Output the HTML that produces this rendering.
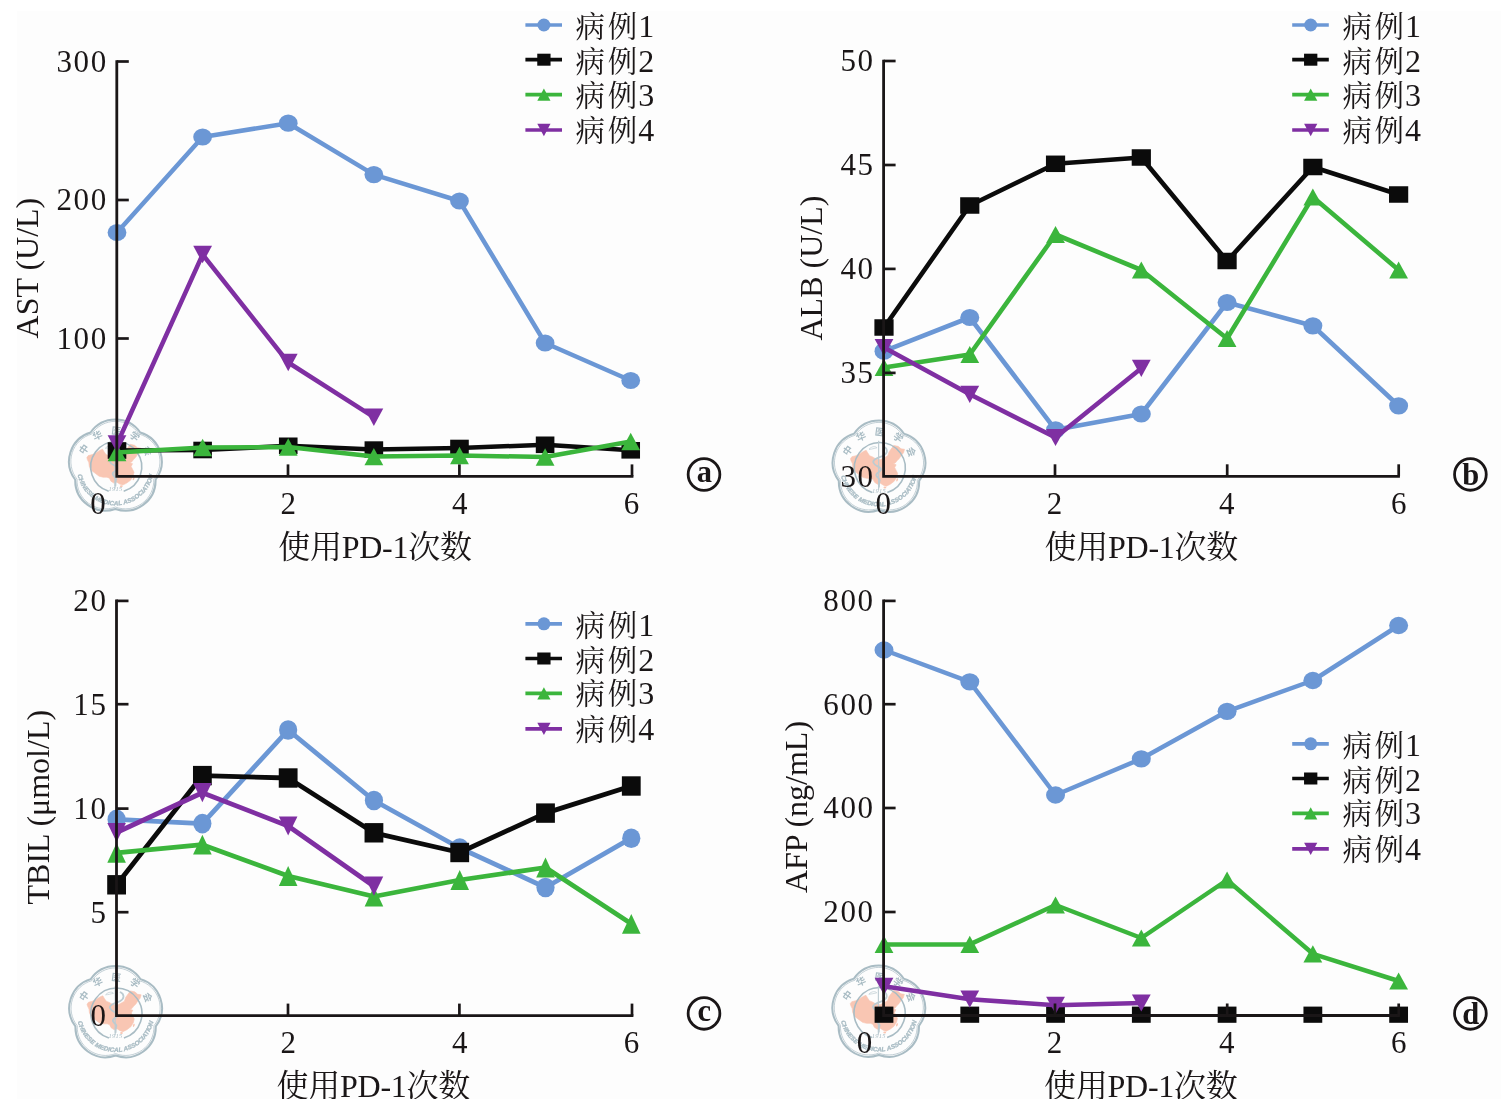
<!DOCTYPE html>
<html lang="zh-CN">
<head>
<meta charset="utf-8">
<title>使用PD-1次数 — AST / ALB / TBIL / AFP</title>
<style>
html,body{margin:0;padding:0;background:#ffffff;}
body{width:1501px;height:1119px;overflow:hidden;font-family:"Liberation Serif","Noto Serif CJK SC",serif;}
svg{display:block;}
</style>
</head>
<body>
<svg width="1501" height="1119" viewBox="0 0 1501 1119">
<rect x="0" y="0" width="1501" height="1119" fill="#ffffff"/>
<rect x="17" y="10.8" width="1484" height="1088.2" fill="#fdfdfd"/>
<defs><clipPath id="pg"><rect x="0" y="0" width="1501" height="1099"/></clipPath></defs>
<g clip-path="url(#pg)">
<g id="chart-a">
<g transform="translate(115.4 466.7)">
<path d="M-28.55 -9.14 L-27.08 -11.11 L-23.15 -12.09 L-19.21 -14.06 L-15.28 -16.52 L-12.82 -17.5 L-11.35 -15.04 L-9.38 -12.09 L-6.43 -10.91 L-3.48 -9.14 L1.44 -8.16 L5.37 -10.13 L8.81 -12.09 L10.09 -16.03 L13.04 -19.96 L14.71 -22.42 L19.13 -21.44 L22.08 -18.98 L25.53 -18.49 L24.54 -15.04 L22.08 -12.09 L20.12 -9.14 L18.15 -7.18 L16.18 -4.72 L14.22 -4.03 L17.17 -3.05 L15.69 -0.29 L17.17 2.65 L18.64 5.6 L17.66 9.54 L15.2 13.47 L11.27 16.42 L7.34 18.39 L4.39 17.4 L1.44 15.44 L-1.51 16.42 L-4.46 14.45 L-5.94 11.5 L-8.4 10.52 L-12.33 10.52 L-16.26 9.54 L-20.2 6.59 L-24.13 3.64 L-26.1 -0.29 L-26.59 -4.23 L-28.06 -7.18 Z" fill="#f9c6b3" stroke="#f9c6b3" stroke-width="0.6" stroke-linejoin="round"/>
<ellipse cx="5.9" cy="19.6" rx="1.4" ry="1.0" fill="#f9c6b3"/>
<ellipse cx="18.2" cy="12.0" rx="0.8" ry="1.7" fill="#f9c6b3" transform="rotate(20 18.2 12)"/>
<path d="M-24.84 -34.18 A30.2 30.2 0 0 1 24.84 -34.18 A30.2 30.2 0 0 1 40.18 13.06 A30.2 30.2 0 0 1 0 42.25 A30.2 30.2 0 0 1 -40.18 13.06 A30.2 30.2 0 0 1 -24.84 -34.18 Z" fill="none" stroke="#a9bcc4" stroke-width="2.0" stroke-linejoin="round"/>
<path d="M-23.71 -32.63 A28.4 28.4 0 0 1 23.71 -32.63 A28.4 28.4 0 0 1 38.36 12.46 A28.4 28.4 0 0 1 0 40.34 A28.4 28.4 0 0 1 -38.36 12.46 A28.4 28.4 0 0 1 -23.71 -32.63 Z" fill="none" stroke="#a9bcc4" stroke-width="0.7" stroke-linejoin="round"/>
<path d="M-6.7 24.6 A25.5 25.5 0 1 1 8.3 24.6" fill="none" stroke="#a9bcc4" stroke-width="1.6"/>
<path d="M-0.4 -27 L-0.4 22" stroke="#bfcdd3" stroke-width="1.2" fill="none"/>
<path d="M5 -21 C9 -19 9 -14 4 -12 C-2 -10 -7 -8 -5.5 -5 C-4 -1 3 -1 2 2 C1 5 -4 5 -2.5 8 C-1 11 2 11 0.5 13.5 C0 15 0 17 0 19" stroke="#bccbd1" stroke-width="1.8" fill="none" stroke-linecap="round"/>
<path d="M-10 -18.5 C-7 -22 -3 -21.5 -2 -20 C-5 -19.5 -7 -18.5 -10 -18.5 Z" stroke="#b4c5cb" stroke-width="0.6" fill="none"/>
<path id="w115_466t" d="M-32.2 0 A32.2 32.2 0 0 1 32.2 0" fill="none"/>
<path id="w115_466b" d="M-38.7 0 A38.7 38.7 0 0 0 38.7 0" fill="none"/>
<text font-family="'Liberation Sans', 'Noto Sans CJK SC', sans-serif" font-size="9.6" font-weight="bold" fill="#a9bcc4" text-anchor="middle" letter-spacing="7.9"><textPath href="#w115_466t" startOffset="54.2%">中华医学会</textPath></text>
<text font-family="'Liberation Sans', sans-serif" font-size="6.2" font-weight="bold" font-style="italic" fill="#a9bcc4" stroke="#a9bcc4" stroke-width="0.3" text-anchor="middle"><textPath href="#w115_466b" startOffset="50%" textLength="105" lengthAdjust="spacingAndGlyphs">CHINESE MEDICAL ASSOCIATION</textPath></text>
<text x="0" y="24.8" font-family="'Liberation Serif', serif" font-size="6.4" font-style="italic" fill="#a9bcc4" text-anchor="middle" letter-spacing="0.3">1915</text>
</g>
<polyline points="117,232.5 202.62,137 288.24,123.2 373.86,174.6 459.48,201 545.1,343 630.72,380.5" fill="none" stroke="#6b97d5" stroke-width="4.5" stroke-linejoin="round"/>
<ellipse cx="117" cy="232.5" rx="9.4" ry="8.6" fill="#6b97d5"/>
<ellipse cx="202.62" cy="137" rx="9.4" ry="8.6" fill="#6b97d5"/>
<ellipse cx="288.24" cy="123.2" rx="9.4" ry="8.6" fill="#6b97d5"/>
<ellipse cx="373.86" cy="174.6" rx="9.4" ry="8.6" fill="#6b97d5"/>
<ellipse cx="459.48" cy="201" rx="9.4" ry="8.6" fill="#6b97d5"/>
<ellipse cx="545.1" cy="343" rx="9.4" ry="8.6" fill="#6b97d5"/>
<ellipse cx="630.72" cy="380.5" rx="9.4" ry="8.6" fill="#6b97d5"/>
<polyline points="117,450.5 202.62,450 288.24,445.8 373.86,449.6 459.48,448 545.1,444.8 630.72,450.3" fill="none" stroke="#0b0b0b" stroke-width="4.5" stroke-linejoin="round"/>
<rect x="107.7" y="442.2" width="18.6" height="16.6" fill="#0b0b0b"/>
<rect x="193.32" y="441.7" width="18.6" height="16.6" fill="#0b0b0b"/>
<rect x="278.94" y="437.5" width="18.6" height="16.6" fill="#0b0b0b"/>
<rect x="364.56" y="441.3" width="18.6" height="16.6" fill="#0b0b0b"/>
<rect x="450.18" y="439.7" width="18.6" height="16.6" fill="#0b0b0b"/>
<rect x="535.8" y="436.5" width="18.6" height="16.6" fill="#0b0b0b"/>
<rect x="621.42" y="442" width="18.6" height="16.6" fill="#0b0b0b"/>
<polyline points="117,452.5 202.62,447.5 288.24,447 373.86,456.6 459.48,455.5 545.1,457 630.72,441.5" fill="none" stroke="#3bb53c" stroke-width="4.5" stroke-linejoin="round"/>
<polygon points="117,443.8 126.4,461.2 107.6,461.2" fill="#3bb53c"/>
<polygon points="202.62,438.8 212.02,456.2 193.22,456.2" fill="#3bb53c"/>
<polygon points="288.24,438.3 297.64,455.7 278.84,455.7" fill="#3bb53c"/>
<polygon points="373.86,447.9 383.26,465.3 364.46,465.3" fill="#3bb53c"/>
<polygon points="459.48,446.8 468.88,464.2 450.08,464.2" fill="#3bb53c"/>
<polygon points="545.1,448.3 554.5,465.7 535.7,465.7" fill="#3bb53c"/>
<polygon points="630.72,432.8 640.12,450.2 621.32,450.2" fill="#3bb53c"/>
<polyline points="117,444 202.62,254.5 288.24,362.5 373.86,417.2" fill="none" stroke="#7f2fa2" stroke-width="4.5" stroke-linejoin="round"/>
<polygon points="117,452.7 126.4,435.3 107.6,435.3" fill="#7f2fa2"/>
<polygon points="202.62,263.2 212.02,245.8 193.22,245.8" fill="#7f2fa2"/>
<polygon points="288.24,371.2 297.64,353.8 278.84,353.8" fill="#7f2fa2"/>
<polygon points="373.86,425.9 383.26,408.5 364.46,408.5" fill="#7f2fa2"/>
<path d="M116.8 60.2 L116.8 476.4 L633.4 476.4" fill="none" stroke="#1a1617" stroke-width="2.8" stroke-linejoin="miter"/>
<path d="M116.8 61.5 h12.0" stroke="#1a1617" stroke-width="2.7"/>
<path d="M116.8 200 h12.0" stroke="#1a1617" stroke-width="2.7"/>
<path d="M116.8 338.5 h12.0" stroke="#1a1617" stroke-width="2.7"/>
<path d="M288 476.4 v-12.0" stroke="#1a1617" stroke-width="2.7"/>
<path d="M459.4 476.4 v-12.0" stroke="#1a1617" stroke-width="2.7"/>
<path d="M632 476.4 v-12.0" stroke="#1a1617" stroke-width="2.7"/>
<text x="107.8" y="71.8" text-anchor="end" font-family="'Liberation Serif', 'Noto Serif CJK SC', serif" font-size="31" fill="#1a1617" letter-spacing="1.6">300</text>
<text x="107.8" y="210.3" text-anchor="end" font-family="'Liberation Serif', 'Noto Serif CJK SC', serif" font-size="31" fill="#1a1617" letter-spacing="1.6">200</text>
<text x="107.8" y="348.8" text-anchor="end" font-family="'Liberation Serif', 'Noto Serif CJK SC', serif" font-size="31" fill="#1a1617" letter-spacing="1.6">100</text>
<text x="289.1" y="513.6" text-anchor="middle" font-family="'Liberation Serif', 'Noto Serif CJK SC', serif" font-size="31" fill="#1a1617" letter-spacing="1.6">2</text>
<text x="460.5" y="513.6" text-anchor="middle" font-family="'Liberation Serif', 'Noto Serif CJK SC', serif" font-size="31" fill="#1a1617" letter-spacing="1.6">4</text>
<text x="632.2" y="513.6" text-anchor="middle" font-family="'Liberation Serif', 'Noto Serif CJK SC', serif" font-size="31" fill="#1a1617" letter-spacing="1.6">6</text>
<text x="98.8" y="513.6" text-anchor="middle" font-family="'Liberation Serif', 'Noto Serif CJK SC', serif" font-size="31" fill="#1a1617" letter-spacing="1.6">0</text>
<text transform="translate(38.1 268.1) rotate(-90)" text-anchor="middle" font-family="'Liberation Serif', 'Noto Serif CJK SC', serif" font-size="32" fill="#1a1617" letter-spacing="0">AST (U/L)</text>
<text x="375" y="558" text-anchor="middle" font-family="'Liberation Serif', 'Noto Serif CJK SC', serif" font-size="32" fill="#1a1617" letter-spacing="-0.25">使用PD-1次数</text>
<path d="M525.4 25 h36.6" stroke="#6b97d5" stroke-width="3.7"/>
<circle cx="543.9" cy="25" r="6.5" fill="#6b97d5"/>
<text x="575.6" y="37" font-family="'Liberation Serif', 'Noto Serif CJK SC', serif" font-size="29.5" fill="#1a1617" letter-spacing="2.7">病例<tspan x="638.2" font-size="32" letter-spacing="0">1</tspan></text>
<path d="M525.4 59.7 h36.6" stroke="#0b0b0b" stroke-width="3.7"/>
<rect x="537.25" y="53.7" width="13.3" height="12" fill="#0b0b0b"/>
<text x="575.6" y="71.7" font-family="'Liberation Serif', 'Noto Serif CJK SC', serif" font-size="29.5" fill="#1a1617" letter-spacing="2.7">病例<tspan x="638.2" font-size="32" letter-spacing="0">2</tspan></text>
<path d="M525.4 94.6 h36.6" stroke="#3bb53c" stroke-width="3.7"/>
<polygon points="543.9,88.45 550.5,100.75 537.3,100.75" fill="#3bb53c"/>
<text x="575.6" y="105.6" font-family="'Liberation Serif', 'Noto Serif CJK SC', serif" font-size="29.5" fill="#1a1617" letter-spacing="2.7">病例<tspan x="638.2" font-size="32" letter-spacing="0">3</tspan></text>
<path d="M525.4 130 h36.6" stroke="#7f2fa2" stroke-width="3.7"/>
<polygon points="543.9,136.15 550.5,123.85 537.3,123.85" fill="#7f2fa2"/>
<text x="575.6" y="140.7" font-family="'Liberation Serif', 'Noto Serif CJK SC', serif" font-size="29.5" fill="#1a1617" letter-spacing="2.7">病例<tspan x="638.2" font-size="32" letter-spacing="0">4</tspan></text>
<circle cx="704" cy="474.5" r="15.85" fill="none" stroke="#1a1617" stroke-width="2.8"/>
<text x="704.3" y="481.9" text-anchor="middle" font-family="'Liberation Serif', 'Noto Serif CJK SC', serif" font-size="30.5" font-weight="bold" fill="#1a1617">a</text>
</g>
<g id="chart-b">
<g transform="translate(879 467.8)">
<path d="M-28.55 -9.14 L-27.08 -11.11 L-23.15 -12.09 L-19.21 -14.06 L-15.28 -16.52 L-12.82 -17.5 L-11.35 -15.04 L-9.38 -12.09 L-6.43 -10.91 L-3.48 -9.14 L1.44 -8.16 L5.37 -10.13 L8.81 -12.09 L10.09 -16.03 L13.04 -19.96 L14.71 -22.42 L19.13 -21.44 L22.08 -18.98 L25.53 -18.49 L24.54 -15.04 L22.08 -12.09 L20.12 -9.14 L18.15 -7.18 L16.18 -4.72 L14.22 -4.03 L17.17 -3.05 L15.69 -0.29 L17.17 2.65 L18.64 5.6 L17.66 9.54 L15.2 13.47 L11.27 16.42 L7.34 18.39 L4.39 17.4 L1.44 15.44 L-1.51 16.42 L-4.46 14.45 L-5.94 11.5 L-8.4 10.52 L-12.33 10.52 L-16.26 9.54 L-20.2 6.59 L-24.13 3.64 L-26.1 -0.29 L-26.59 -4.23 L-28.06 -7.18 Z" fill="#f9c6b3" stroke="#f9c6b3" stroke-width="0.6" stroke-linejoin="round"/>
<ellipse cx="5.9" cy="19.6" rx="1.4" ry="1.0" fill="#f9c6b3"/>
<ellipse cx="18.2" cy="12.0" rx="0.8" ry="1.7" fill="#f9c6b3" transform="rotate(20 18.2 12)"/>
<path d="M-24.84 -34.18 A30.2 30.2 0 0 1 24.84 -34.18 A30.2 30.2 0 0 1 40.18 13.06 A30.2 30.2 0 0 1 0 42.25 A30.2 30.2 0 0 1 -40.18 13.06 A30.2 30.2 0 0 1 -24.84 -34.18 Z" fill="none" stroke="#a9bcc4" stroke-width="2.0" stroke-linejoin="round"/>
<path d="M-23.71 -32.63 A28.4 28.4 0 0 1 23.71 -32.63 A28.4 28.4 0 0 1 38.36 12.46 A28.4 28.4 0 0 1 0 40.34 A28.4 28.4 0 0 1 -38.36 12.46 A28.4 28.4 0 0 1 -23.71 -32.63 Z" fill="none" stroke="#a9bcc4" stroke-width="0.7" stroke-linejoin="round"/>
<path d="M-6.7 24.6 A25.5 25.5 0 1 1 8.3 24.6" fill="none" stroke="#a9bcc4" stroke-width="1.6"/>
<path d="M-0.4 -27 L-0.4 22" stroke="#bfcdd3" stroke-width="1.2" fill="none"/>
<path d="M5 -21 C9 -19 9 -14 4 -12 C-2 -10 -7 -8 -5.5 -5 C-4 -1 3 -1 2 2 C1 5 -4 5 -2.5 8 C-1 11 2 11 0.5 13.5 C0 15 0 17 0 19" stroke="#bccbd1" stroke-width="1.8" fill="none" stroke-linecap="round"/>
<path d="M-10 -18.5 C-7 -22 -3 -21.5 -2 -20 C-5 -19.5 -7 -18.5 -10 -18.5 Z" stroke="#b4c5cb" stroke-width="0.6" fill="none"/>
<path id="w879_467t" d="M-32.2 0 A32.2 32.2 0 0 1 32.2 0" fill="none"/>
<path id="w879_467b" d="M-38.7 0 A38.7 38.7 0 0 0 38.7 0" fill="none"/>
<text font-family="'Liberation Sans', 'Noto Sans CJK SC', sans-serif" font-size="9.6" font-weight="bold" fill="#a9bcc4" text-anchor="middle" letter-spacing="7.9"><textPath href="#w879_467t" startOffset="54.2%">中华医学会</textPath></text>
<text font-family="'Liberation Sans', sans-serif" font-size="6.2" font-weight="bold" font-style="italic" fill="#a9bcc4" stroke="#a9bcc4" stroke-width="0.3" text-anchor="middle"><textPath href="#w879_467b" startOffset="50%" textLength="105" lengthAdjust="spacingAndGlyphs">CHINESE MEDICAL ASSOCIATION</textPath></text>
<text x="0" y="24.8" font-family="'Liberation Serif', serif" font-size="6.4" font-style="italic" fill="#a9bcc4" text-anchor="middle" letter-spacing="0.3">1915</text>
</g>
<polyline points="884,351.2 969.77,317.5 1055.54,429.8 1141.31,414 1227.08,302.5 1312.85,325.8 1398.62,405.8" fill="none" stroke="#6b97d5" stroke-width="4.6" stroke-linejoin="round"/>
<ellipse cx="884" cy="351.2" rx="9.5" ry="8.6" fill="#6b97d5"/>
<ellipse cx="969.77" cy="317.5" rx="9.5" ry="8.6" fill="#6b97d5"/>
<ellipse cx="1055.54" cy="429.8" rx="9.5" ry="8.6" fill="#6b97d5"/>
<ellipse cx="1141.31" cy="414" rx="9.5" ry="8.6" fill="#6b97d5"/>
<ellipse cx="1227.08" cy="302.5" rx="9.5" ry="8.6" fill="#6b97d5"/>
<ellipse cx="1312.85" cy="325.8" rx="9.5" ry="8.6" fill="#6b97d5"/>
<ellipse cx="1398.62" cy="405.8" rx="9.5" ry="8.6" fill="#6b97d5"/>
<polyline points="884,327.5 969.77,205.5 1055.54,163.8 1141.31,157.5 1227.08,261 1312.85,167 1398.62,194.5" fill="none" stroke="#0b0b0b" stroke-width="4.6" stroke-linejoin="round"/>
<rect x="874.4" y="319.25" width="19.2" height="16.5" fill="#0b0b0b"/>
<rect x="960.17" y="197.25" width="19.2" height="16.5" fill="#0b0b0b"/>
<rect x="1045.94" y="155.55" width="19.2" height="16.5" fill="#0b0b0b"/>
<rect x="1131.71" y="149.25" width="19.2" height="16.5" fill="#0b0b0b"/>
<rect x="1217.48" y="252.75" width="19.2" height="16.5" fill="#0b0b0b"/>
<rect x="1303.25" y="158.75" width="19.2" height="16.5" fill="#0b0b0b"/>
<rect x="1389.02" y="186.25" width="19.2" height="16.5" fill="#0b0b0b"/>
<polyline points="884,367.5 969.77,354.5 1055.54,234.5 1141.31,270 1227.08,338.5 1312.85,197 1398.62,270" fill="none" stroke="#3bb53c" stroke-width="4.6" stroke-linejoin="round"/>
<polygon points="884,358.9 893.4,376.1 874.6,376.1" fill="#3bb53c"/>
<polygon points="969.77,345.9 979.17,363.1 960.37,363.1" fill="#3bb53c"/>
<polygon points="1055.54,225.9 1064.94,243.1 1046.14,243.1" fill="#3bb53c"/>
<polygon points="1141.31,261.4 1150.71,278.6 1131.91,278.6" fill="#3bb53c"/>
<polygon points="1227.08,329.9 1236.48,347.1 1217.68,347.1" fill="#3bb53c"/>
<polygon points="1312.85,188.4 1322.25,205.6 1303.45,205.6" fill="#3bb53c"/>
<polygon points="1398.62,261.4 1408.02,278.6 1389.22,278.6" fill="#3bb53c"/>
<polyline points="884,347.5 969.77,394.3 1055.54,437.5 1141.31,368.3" fill="none" stroke="#7f2fa2" stroke-width="4.6" stroke-linejoin="round"/>
<polygon points="884,356.1 893.4,338.9 874.6,338.9" fill="#7f2fa2"/>
<polygon points="969.77,402.9 979.17,385.7 960.37,385.7" fill="#7f2fa2"/>
<polygon points="1055.54,446.1 1064.94,428.9 1046.14,428.9" fill="#7f2fa2"/>
<polygon points="1141.31,376.9 1150.71,359.7 1131.91,359.7" fill="#7f2fa2"/>
<path d="M883.6 59.7 L883.6 476.3 L1399.9 476.3" fill="none" stroke="#1a1617" stroke-width="2.8" stroke-linejoin="miter"/>
<path d="M883.6 61 h12.0" stroke="#1a1617" stroke-width="2.7"/>
<path d="M883.6 165 h12.0" stroke="#1a1617" stroke-width="2.7"/>
<path d="M883.6 268.9 h12.0" stroke="#1a1617" stroke-width="2.7"/>
<path d="M883.6 372.9 h12.0" stroke="#1a1617" stroke-width="2.7"/>
<path d="M1055 476.3 v-12.0" stroke="#1a1617" stroke-width="2.7"/>
<path d="M1227.2 476.3 v-12.0" stroke="#1a1617" stroke-width="2.7"/>
<path d="M1398.7 476.3 v-12.0" stroke="#1a1617" stroke-width="2.7"/>
<text x="874.6" y="71.3" text-anchor="end" font-family="'Liberation Serif', 'Noto Serif CJK SC', serif" font-size="31" fill="#1a1617" letter-spacing="1.6">50</text>
<text x="874.6" y="175.3" text-anchor="end" font-family="'Liberation Serif', 'Noto Serif CJK SC', serif" font-size="31" fill="#1a1617" letter-spacing="1.6">45</text>
<text x="874.6" y="279.2" text-anchor="end" font-family="'Liberation Serif', 'Noto Serif CJK SC', serif" font-size="31" fill="#1a1617" letter-spacing="1.6">40</text>
<text x="874.6" y="383.2" text-anchor="end" font-family="'Liberation Serif', 'Noto Serif CJK SC', serif" font-size="31" fill="#1a1617" letter-spacing="1.6">35</text>
<text x="874.6" y="486.5" text-anchor="end" font-family="'Liberation Serif', 'Noto Serif CJK SC', serif" font-size="31" fill="#1a1617" letter-spacing="1.6">30</text>
<text x="1055.4" y="513.5" text-anchor="middle" font-family="'Liberation Serif', 'Noto Serif CJK SC', serif" font-size="31" fill="#1a1617" letter-spacing="1.6">2</text>
<text x="1227.6" y="513.5" text-anchor="middle" font-family="'Liberation Serif', 'Noto Serif CJK SC', serif" font-size="31" fill="#1a1617" letter-spacing="1.6">4</text>
<text x="1399.6" y="513.5" text-anchor="middle" font-family="'Liberation Serif', 'Noto Serif CJK SC', serif" font-size="31" fill="#1a1617" letter-spacing="1.6">6</text>
<text x="884" y="513.6" text-anchor="middle" font-family="'Liberation Serif', 'Noto Serif CJK SC', serif" font-size="31" fill="#1a1617" letter-spacing="1.6">0</text>
<text transform="translate(822.2 268.1) rotate(-90)" text-anchor="middle" font-family="'Liberation Serif', 'Noto Serif CJK SC', serif" font-size="32" fill="#1a1617" letter-spacing="0">ALB (U/L)</text>
<text x="1141.3" y="558" text-anchor="middle" font-family="'Liberation Serif', 'Noto Serif CJK SC', serif" font-size="32" fill="#1a1617" letter-spacing="-0.25">使用PD-1次数</text>
<path d="M1292.2 25 h36.6" stroke="#6b97d5" stroke-width="3.7"/>
<circle cx="1310.7" cy="25" r="6.5" fill="#6b97d5"/>
<text x="1342.4" y="37" font-family="'Liberation Serif', 'Noto Serif CJK SC', serif" font-size="29.5" fill="#1a1617" letter-spacing="2.7">病例<tspan x="1405" font-size="32" letter-spacing="0">1</tspan></text>
<path d="M1292.2 59.7 h36.6" stroke="#0b0b0b" stroke-width="3.7"/>
<rect x="1304.05" y="53.7" width="13.3" height="12" fill="#0b0b0b"/>
<text x="1342.4" y="71.7" font-family="'Liberation Serif', 'Noto Serif CJK SC', serif" font-size="29.5" fill="#1a1617" letter-spacing="2.7">病例<tspan x="1405" font-size="32" letter-spacing="0">2</tspan></text>
<path d="M1292.2 94.6 h36.6" stroke="#3bb53c" stroke-width="3.7"/>
<polygon points="1310.7,88.45 1317.3,100.75 1304.1,100.75" fill="#3bb53c"/>
<text x="1342.4" y="105.6" font-family="'Liberation Serif', 'Noto Serif CJK SC', serif" font-size="29.5" fill="#1a1617" letter-spacing="2.7">病例<tspan x="1405" font-size="32" letter-spacing="0">3</tspan></text>
<path d="M1292.2 130 h36.6" stroke="#7f2fa2" stroke-width="3.7"/>
<polygon points="1310.7,136.15 1317.3,123.85 1304.1,123.85" fill="#7f2fa2"/>
<text x="1342.4" y="140.7" font-family="'Liberation Serif', 'Noto Serif CJK SC', serif" font-size="29.5" fill="#1a1617" letter-spacing="2.7">病例<tspan x="1405" font-size="32" letter-spacing="0">4</tspan></text>
<circle cx="1470.4" cy="474.4" r="15.85" fill="none" stroke="#1a1617" stroke-width="2.8"/>
<text x="1470.7" y="484.9" text-anchor="middle" font-family="'Liberation Serif', 'Noto Serif CJK SC', serif" font-size="30.5" font-weight="bold" fill="#1a1617">b</text>
</g>
<g id="chart-c">
<g transform="translate(115.6 1013.3)">
<path d="M-28.55 -9.14 L-27.08 -11.11 L-23.15 -12.09 L-19.21 -14.06 L-15.28 -16.52 L-12.82 -17.5 L-11.35 -15.04 L-9.38 -12.09 L-6.43 -10.91 L-3.48 -9.14 L1.44 -8.16 L5.37 -10.13 L8.81 -12.09 L10.09 -16.03 L13.04 -19.96 L14.71 -22.42 L19.13 -21.44 L22.08 -18.98 L25.53 -18.49 L24.54 -15.04 L22.08 -12.09 L20.12 -9.14 L18.15 -7.18 L16.18 -4.72 L14.22 -4.03 L17.17 -3.05 L15.69 -0.29 L17.17 2.65 L18.64 5.6 L17.66 9.54 L15.2 13.47 L11.27 16.42 L7.34 18.39 L4.39 17.4 L1.44 15.44 L-1.51 16.42 L-4.46 14.45 L-5.94 11.5 L-8.4 10.52 L-12.33 10.52 L-16.26 9.54 L-20.2 6.59 L-24.13 3.64 L-26.1 -0.29 L-26.59 -4.23 L-28.06 -7.18 Z" fill="#f9c6b3" stroke="#f9c6b3" stroke-width="0.6" stroke-linejoin="round"/>
<ellipse cx="5.9" cy="19.6" rx="1.4" ry="1.0" fill="#f9c6b3"/>
<ellipse cx="18.2" cy="12.0" rx="0.8" ry="1.7" fill="#f9c6b3" transform="rotate(20 18.2 12)"/>
<path d="M-24.84 -34.18 A30.2 30.2 0 0 1 24.84 -34.18 A30.2 30.2 0 0 1 40.18 13.06 A30.2 30.2 0 0 1 0 42.25 A30.2 30.2 0 0 1 -40.18 13.06 A30.2 30.2 0 0 1 -24.84 -34.18 Z" fill="none" stroke="#a9bcc4" stroke-width="2.0" stroke-linejoin="round"/>
<path d="M-23.71 -32.63 A28.4 28.4 0 0 1 23.71 -32.63 A28.4 28.4 0 0 1 38.36 12.46 A28.4 28.4 0 0 1 0 40.34 A28.4 28.4 0 0 1 -38.36 12.46 A28.4 28.4 0 0 1 -23.71 -32.63 Z" fill="none" stroke="#a9bcc4" stroke-width="0.7" stroke-linejoin="round"/>
<path d="M-6.7 24.6 A25.5 25.5 0 1 1 8.3 24.6" fill="none" stroke="#a9bcc4" stroke-width="1.6"/>
<path d="M-0.4 -27 L-0.4 22" stroke="#bfcdd3" stroke-width="1.2" fill="none"/>
<path d="M5 -21 C9 -19 9 -14 4 -12 C-2 -10 -7 -8 -5.5 -5 C-4 -1 3 -1 2 2 C1 5 -4 5 -2.5 8 C-1 11 2 11 0.5 13.5 C0 15 0 17 0 19" stroke="#bccbd1" stroke-width="1.8" fill="none" stroke-linecap="round"/>
<path d="M-10 -18.5 C-7 -22 -3 -21.5 -2 -20 C-5 -19.5 -7 -18.5 -10 -18.5 Z" stroke="#b4c5cb" stroke-width="0.6" fill="none"/>
<path id="w115_1013t" d="M-32.2 0 A32.2 32.2 0 0 1 32.2 0" fill="none"/>
<path id="w115_1013b" d="M-38.7 0 A38.7 38.7 0 0 0 38.7 0" fill="none"/>
<text font-family="'Liberation Sans', 'Noto Sans CJK SC', sans-serif" font-size="9.6" font-weight="bold" fill="#a9bcc4" text-anchor="middle" letter-spacing="7.9"><textPath href="#w115_1013t" startOffset="54.2%">中华医学会</textPath></text>
<text font-family="'Liberation Sans', sans-serif" font-size="6.2" font-weight="bold" font-style="italic" fill="#a9bcc4" stroke="#a9bcc4" stroke-width="0.3" text-anchor="middle"><textPath href="#w115_1013b" startOffset="50%" textLength="105" lengthAdjust="spacingAndGlyphs">CHINESE MEDICAL ASSOCIATION</textPath></text>
<text x="0" y="24.8" font-family="'Liberation Serif', serif" font-size="6.4" font-style="italic" fill="#a9bcc4" text-anchor="middle" letter-spacing="0.3">1915</text>
</g>
<polyline points="116.6,819.4 202.38,823.6 288.16,730 373.94,800.5 459.72,848 545.5,887.5 631.28,838.2" fill="none" stroke="#6b97d5" stroke-width="4.8" stroke-linejoin="round"/>
<ellipse cx="116.6" cy="819.4" rx="9.1" ry="9.8" fill="#6b97d5"/>
<ellipse cx="202.38" cy="823.6" rx="9.1" ry="9.8" fill="#6b97d5"/>
<ellipse cx="288.16" cy="730" rx="9.1" ry="9.8" fill="#6b97d5"/>
<ellipse cx="373.94" cy="800.5" rx="9.1" ry="9.8" fill="#6b97d5"/>
<ellipse cx="459.72" cy="848" rx="9.1" ry="9.8" fill="#6b97d5"/>
<ellipse cx="545.5" cy="887.5" rx="9.1" ry="9.8" fill="#6b97d5"/>
<ellipse cx="631.28" cy="838.2" rx="9.1" ry="9.8" fill="#6b97d5"/>
<polyline points="116.6,884.8 202.38,775.6 288.16,778 373.94,832.8 459.72,852.5 545.5,813.1 631.28,786" fill="none" stroke="#0b0b0b" stroke-width="4.8" stroke-linejoin="round"/>
<rect x="107.2" y="875.1" width="18.8" height="19.4" fill="#0b0b0b"/>
<rect x="192.98" y="765.9" width="18.8" height="19.4" fill="#0b0b0b"/>
<rect x="278.76" y="768.3" width="18.8" height="19.4" fill="#0b0b0b"/>
<rect x="364.54" y="823.1" width="18.8" height="19.4" fill="#0b0b0b"/>
<rect x="450.32" y="842.8" width="18.8" height="19.4" fill="#0b0b0b"/>
<rect x="536.1" y="803.4" width="18.8" height="19.4" fill="#0b0b0b"/>
<rect x="621.88" y="776.3" width="18.8" height="19.4" fill="#0b0b0b"/>
<polyline points="116.6,852.8 202.38,844.7 288.16,876 373.94,896.5 459.72,880 545.5,867.5 631.28,923.8" fill="none" stroke="#3bb53c" stroke-width="4.8" stroke-linejoin="round"/>
<polygon points="116.6,842.9 125.9,862.7 107.3,862.7" fill="#3bb53c"/>
<polygon points="202.38,834.8 211.68,854.6 193.08,854.6" fill="#3bb53c"/>
<polygon points="288.16,866.1 297.46,885.9 278.86,885.9" fill="#3bb53c"/>
<polygon points="373.94,886.6 383.24,906.4 364.64,906.4" fill="#3bb53c"/>
<polygon points="459.72,870.1 469.02,889.9 450.42,889.9" fill="#3bb53c"/>
<polygon points="545.5,857.6 554.8,877.4 536.2,877.4" fill="#3bb53c"/>
<polygon points="631.28,913.9 640.58,933.7 621.98,933.7" fill="#3bb53c"/>
<polyline points="116.6,832.5 202.38,792.7 288.16,826 373.94,886.2" fill="none" stroke="#7f2fa2" stroke-width="4.8" stroke-linejoin="round"/>
<polygon points="116.6,842.1 125.9,822.9 107.3,822.9" fill="#7f2fa2"/>
<polygon points="202.38,802.3 211.68,783.1 193.08,783.1" fill="#7f2fa2"/>
<polygon points="288.16,835.6 297.46,816.4 278.86,816.4" fill="#7f2fa2"/>
<polygon points="373.94,895.8 383.24,876.6 364.64,876.6" fill="#7f2fa2"/>
<path d="M116.5 599.6 L116.5 1015.6 L633.4 1015.6" fill="none" stroke="#1a1617" stroke-width="2.8" stroke-linejoin="miter"/>
<path d="M116.5 600.9 h12.0" stroke="#1a1617" stroke-width="2.7"/>
<path d="M116.5 704.2 h12.0" stroke="#1a1617" stroke-width="2.7"/>
<path d="M116.5 808.6 h12.0" stroke="#1a1617" stroke-width="2.7"/>
<path d="M116.5 912.2 h12.0" stroke="#1a1617" stroke-width="2.7"/>
<path d="M288 1015.6 v-12.0" stroke="#1a1617" stroke-width="2.7"/>
<path d="M459.4 1015.6 v-12.0" stroke="#1a1617" stroke-width="2.7"/>
<path d="M632 1015.6 v-12.0" stroke="#1a1617" stroke-width="2.7"/>
<text x="107.5" y="611.2" text-anchor="end" font-family="'Liberation Serif', 'Noto Serif CJK SC', serif" font-size="31" fill="#1a1617" letter-spacing="1.6">20</text>
<text x="107.5" y="714.5" text-anchor="end" font-family="'Liberation Serif', 'Noto Serif CJK SC', serif" font-size="31" fill="#1a1617" letter-spacing="1.6">15</text>
<text x="107.5" y="818.9" text-anchor="end" font-family="'Liberation Serif', 'Noto Serif CJK SC', serif" font-size="31" fill="#1a1617" letter-spacing="1.6">10</text>
<text x="107.5" y="922.5" text-anchor="end" font-family="'Liberation Serif', 'Noto Serif CJK SC', serif" font-size="31" fill="#1a1617" letter-spacing="1.6">5</text>
<text x="107.5" y="1025.5" text-anchor="end" font-family="'Liberation Serif', 'Noto Serif CJK SC', serif" font-size="31" fill="#1a1617" letter-spacing="1.6">0</text>
<text x="289.1" y="1052.8" text-anchor="middle" font-family="'Liberation Serif', 'Noto Serif CJK SC', serif" font-size="31" fill="#1a1617" letter-spacing="1.6">2</text>
<text x="460.5" y="1052.8" text-anchor="middle" font-family="'Liberation Serif', 'Noto Serif CJK SC', serif" font-size="31" fill="#1a1617" letter-spacing="1.6">4</text>
<text x="632.2" y="1052.8" text-anchor="middle" font-family="'Liberation Serif', 'Noto Serif CJK SC', serif" font-size="31" fill="#1a1617" letter-spacing="1.6">6</text>
<text transform="translate(49 807.2) rotate(-90)" text-anchor="middle" font-family="'Liberation Serif', 'Noto Serif CJK SC', serif" font-size="32" fill="#1a1617" letter-spacing="0">TBIL (μmol/L)</text>
<text x="373.3" y="1096.8" text-anchor="middle" font-family="'Liberation Serif', 'Noto Serif CJK SC', serif" font-size="32" fill="#1a1617" letter-spacing="-0.25">使用PD-1次数</text>
<path d="M525.4 623.8 h36.6" stroke="#6b97d5" stroke-width="3.7"/>
<circle cx="543.9" cy="623.8" r="6.5" fill="#6b97d5"/>
<text x="575.6" y="635.8" font-family="'Liberation Serif', 'Noto Serif CJK SC', serif" font-size="29.5" fill="#1a1617" letter-spacing="2.7">病例<tspan x="638.2" font-size="32" letter-spacing="0">1</tspan></text>
<path d="M525.4 658.5 h36.6" stroke="#0b0b0b" stroke-width="3.7"/>
<rect x="537.25" y="652.5" width="13.3" height="12" fill="#0b0b0b"/>
<text x="575.6" y="670.5" font-family="'Liberation Serif', 'Noto Serif CJK SC', serif" font-size="29.5" fill="#1a1617" letter-spacing="2.7">病例<tspan x="638.2" font-size="32" letter-spacing="0">2</tspan></text>
<path d="M525.4 693.4 h36.6" stroke="#3bb53c" stroke-width="3.7"/>
<polygon points="543.9,687.25 550.5,699.55 537.3,699.55" fill="#3bb53c"/>
<text x="575.6" y="704.4" font-family="'Liberation Serif', 'Noto Serif CJK SC', serif" font-size="29.5" fill="#1a1617" letter-spacing="2.7">病例<tspan x="638.2" font-size="32" letter-spacing="0">3</tspan></text>
<path d="M525.4 728.8 h36.6" stroke="#7f2fa2" stroke-width="3.7"/>
<polygon points="543.9,734.95 550.5,722.65 537.3,722.65" fill="#7f2fa2"/>
<text x="575.6" y="739.5" font-family="'Liberation Serif', 'Noto Serif CJK SC', serif" font-size="29.5" fill="#1a1617" letter-spacing="2.7">病例<tspan x="638.2" font-size="32" letter-spacing="0">4</tspan></text>
<circle cx="704" cy="1013.4" r="15.85" fill="none" stroke="#1a1617" stroke-width="2.8"/>
<text x="704.3" y="1020.8" text-anchor="middle" font-family="'Liberation Serif', 'Noto Serif CJK SC', serif" font-size="30.5" font-weight="bold" fill="#1a1617">c</text>
</g>
<g id="chart-d">
<g transform="translate(878.8 1012.8)">
<path d="M-28.55 -9.14 L-27.08 -11.11 L-23.15 -12.09 L-19.21 -14.06 L-15.28 -16.52 L-12.82 -17.5 L-11.35 -15.04 L-9.38 -12.09 L-6.43 -10.91 L-3.48 -9.14 L1.44 -8.16 L5.37 -10.13 L8.81 -12.09 L10.09 -16.03 L13.04 -19.96 L14.71 -22.42 L19.13 -21.44 L22.08 -18.98 L25.53 -18.49 L24.54 -15.04 L22.08 -12.09 L20.12 -9.14 L18.15 -7.18 L16.18 -4.72 L14.22 -4.03 L17.17 -3.05 L15.69 -0.29 L17.17 2.65 L18.64 5.6 L17.66 9.54 L15.2 13.47 L11.27 16.42 L7.34 18.39 L4.39 17.4 L1.44 15.44 L-1.51 16.42 L-4.46 14.45 L-5.94 11.5 L-8.4 10.52 L-12.33 10.52 L-16.26 9.54 L-20.2 6.59 L-24.13 3.64 L-26.1 -0.29 L-26.59 -4.23 L-28.06 -7.18 Z" fill="#f9c6b3" stroke="#f9c6b3" stroke-width="0.6" stroke-linejoin="round"/>
<ellipse cx="5.9" cy="19.6" rx="1.4" ry="1.0" fill="#f9c6b3"/>
<ellipse cx="18.2" cy="12.0" rx="0.8" ry="1.7" fill="#f9c6b3" transform="rotate(20 18.2 12)"/>
<path d="M-24.84 -34.18 A30.2 30.2 0 0 1 24.84 -34.18 A30.2 30.2 0 0 1 40.18 13.06 A30.2 30.2 0 0 1 0 42.25 A30.2 30.2 0 0 1 -40.18 13.06 A30.2 30.2 0 0 1 -24.84 -34.18 Z" fill="none" stroke="#a9bcc4" stroke-width="2.0" stroke-linejoin="round"/>
<path d="M-23.71 -32.63 A28.4 28.4 0 0 1 23.71 -32.63 A28.4 28.4 0 0 1 38.36 12.46 A28.4 28.4 0 0 1 0 40.34 A28.4 28.4 0 0 1 -38.36 12.46 A28.4 28.4 0 0 1 -23.71 -32.63 Z" fill="none" stroke="#a9bcc4" stroke-width="0.7" stroke-linejoin="round"/>
<path d="M-6.7 24.6 A25.5 25.5 0 1 1 8.3 24.6" fill="none" stroke="#a9bcc4" stroke-width="1.6"/>
<path d="M-0.4 -27 L-0.4 22" stroke="#bfcdd3" stroke-width="1.2" fill="none"/>
<path d="M5 -21 C9 -19 9 -14 4 -12 C-2 -10 -7 -8 -5.5 -5 C-4 -1 3 -1 2 2 C1 5 -4 5 -2.5 8 C-1 11 2 11 0.5 13.5 C0 15 0 17 0 19" stroke="#bccbd1" stroke-width="1.8" fill="none" stroke-linecap="round"/>
<path d="M-10 -18.5 C-7 -22 -3 -21.5 -2 -20 C-5 -19.5 -7 -18.5 -10 -18.5 Z" stroke="#b4c5cb" stroke-width="0.6" fill="none"/>
<path id="w878_1012t" d="M-32.2 0 A32.2 32.2 0 0 1 32.2 0" fill="none"/>
<path id="w878_1012b" d="M-38.7 0 A38.7 38.7 0 0 0 38.7 0" fill="none"/>
<text font-family="'Liberation Sans', 'Noto Sans CJK SC', sans-serif" font-size="9.6" font-weight="bold" fill="#a9bcc4" text-anchor="middle" letter-spacing="7.9"><textPath href="#w878_1012t" startOffset="54.2%">中华医学会</textPath></text>
<text font-family="'Liberation Sans', sans-serif" font-size="6.2" font-weight="bold" font-style="italic" fill="#a9bcc4" stroke="#a9bcc4" stroke-width="0.3" text-anchor="middle"><textPath href="#w878_1012b" startOffset="50%" textLength="105" lengthAdjust="spacingAndGlyphs">CHINESE MEDICAL ASSOCIATION</textPath></text>
<text x="0" y="24.8" font-family="'Liberation Serif', serif" font-size="6.4" font-style="italic" fill="#a9bcc4" text-anchor="middle" letter-spacing="0.3">1915</text>
</g>
<polyline points="884,650 969.77,681.8 1055.54,795 1141.31,758.8 1227.08,711.3 1312.85,680.5 1398.62,625.5" fill="none" stroke="#6b97d5" stroke-width="4.5" stroke-linejoin="round"/>
<ellipse cx="884" cy="650" rx="9.5" ry="8.65" fill="#6b97d5"/>
<ellipse cx="969.77" cy="681.8" rx="9.5" ry="8.65" fill="#6b97d5"/>
<ellipse cx="1055.54" cy="795" rx="9.5" ry="8.65" fill="#6b97d5"/>
<ellipse cx="1141.31" cy="758.8" rx="9.5" ry="8.65" fill="#6b97d5"/>
<ellipse cx="1227.08" cy="711.3" rx="9.5" ry="8.65" fill="#6b97d5"/>
<ellipse cx="1312.85" cy="680.5" rx="9.5" ry="8.65" fill="#6b97d5"/>
<ellipse cx="1398.62" cy="625.5" rx="9.5" ry="8.65" fill="#6b97d5"/>
<rect x="874.6" y="1006.6" width="18.8" height="16.2" fill="#0b0b0b"/>
<rect x="960.37" y="1006.6" width="18.8" height="16.2" fill="#0b0b0b"/>
<rect x="1046.14" y="1006.6" width="18.8" height="16.2" fill="#0b0b0b"/>
<rect x="1131.91" y="1006.6" width="18.8" height="16.2" fill="#0b0b0b"/>
<rect x="1217.68" y="1006.6" width="18.8" height="16.2" fill="#0b0b0b"/>
<rect x="1303.45" y="1006.6" width="18.8" height="16.2" fill="#0b0b0b"/>
<rect x="1389.22" y="1006.6" width="18.8" height="16.2" fill="#0b0b0b"/>
<polyline points="884,944.4 969.77,944.4 1055.54,905 1141.31,938 1227.08,880 1312.85,953.8 1398.62,981" fill="none" stroke="#3bb53c" stroke-width="4.5" stroke-linejoin="round"/>
<polygon points="884,935.8 893.4,953 874.6,953" fill="#3bb53c"/>
<polygon points="969.77,935.8 979.17,953 960.37,953" fill="#3bb53c"/>
<polygon points="1055.54,896.4 1064.94,913.6 1046.14,913.6" fill="#3bb53c"/>
<polygon points="1141.31,929.4 1150.71,946.6 1131.91,946.6" fill="#3bb53c"/>
<polygon points="1227.08,871.4 1236.48,888.6 1217.68,888.6" fill="#3bb53c"/>
<polygon points="1312.85,945.2 1322.25,962.4 1303.45,962.4" fill="#3bb53c"/>
<polygon points="1398.62,972.4 1408.02,989.6 1389.22,989.6" fill="#3bb53c"/>
<polyline points="884,986.3 969.77,999.2 1055.54,1005.3 1141.31,1003" fill="none" stroke="#7f2fa2" stroke-width="4.5" stroke-linejoin="round"/>
<polygon points="884,994.9 893.4,977.7 874.6,977.7" fill="#7f2fa2"/>
<polygon points="969.77,1007.8 979.17,990.6 960.37,990.6" fill="#7f2fa2"/>
<polygon points="1055.54,1013.9 1064.94,996.7 1046.14,996.7" fill="#7f2fa2"/>
<polygon points="1141.31,1011.6 1150.71,994.4 1131.91,994.4" fill="#7f2fa2"/>
<path d="M883.6 599.6 L883.6 1015.5 L1399.9 1015.5" fill="none" stroke="#1a1617" stroke-width="2.8" stroke-linejoin="miter"/>
<path d="M883.6 600.9 h12.0" stroke="#1a1617" stroke-width="2.7"/>
<path d="M883.6 704.2 h12.0" stroke="#1a1617" stroke-width="2.7"/>
<path d="M883.6 808 h12.0" stroke="#1a1617" stroke-width="2.7"/>
<path d="M883.6 912 h12.0" stroke="#1a1617" stroke-width="2.7"/>
<path d="M1055 1015.5 v-12.0" stroke="#1a1617" stroke-width="2.7"/>
<path d="M1227.2 1015.5 v-12.0" stroke="#1a1617" stroke-width="2.7"/>
<path d="M1398.7 1015.5 v-12.0" stroke="#1a1617" stroke-width="2.7"/>
<text x="874.6" y="611.2" text-anchor="end" font-family="'Liberation Serif', 'Noto Serif CJK SC', serif" font-size="31" fill="#1a1617" letter-spacing="1.6">800</text>
<text x="874.6" y="714.5" text-anchor="end" font-family="'Liberation Serif', 'Noto Serif CJK SC', serif" font-size="31" fill="#1a1617" letter-spacing="1.6">600</text>
<text x="874.6" y="818.3" text-anchor="end" font-family="'Liberation Serif', 'Noto Serif CJK SC', serif" font-size="31" fill="#1a1617" letter-spacing="1.6">400</text>
<text x="874.6" y="922.3" text-anchor="end" font-family="'Liberation Serif', 'Noto Serif CJK SC', serif" font-size="31" fill="#1a1617" letter-spacing="1.6">200</text>
<text x="1055.4" y="1052.7" text-anchor="middle" font-family="'Liberation Serif', 'Noto Serif CJK SC', serif" font-size="31" fill="#1a1617" letter-spacing="1.6">2</text>
<text x="1227.6" y="1052.7" text-anchor="middle" font-family="'Liberation Serif', 'Noto Serif CJK SC', serif" font-size="31" fill="#1a1617" letter-spacing="1.6">4</text>
<text x="1399.6" y="1052.7" text-anchor="middle" font-family="'Liberation Serif', 'Noto Serif CJK SC', serif" font-size="31" fill="#1a1617" letter-spacing="1.6">6</text>
<text x="865.3" y="1052.6" text-anchor="middle" font-family="'Liberation Serif', 'Noto Serif CJK SC', serif" font-size="31" fill="#1a1617" letter-spacing="1.6">0</text>
<text transform="translate(807 807) rotate(-90)" text-anchor="middle" font-family="'Liberation Serif', 'Noto Serif CJK SC', serif" font-size="32" fill="#1a1617" letter-spacing="0">AFP (ng/mL)</text>
<text x="1140.8" y="1096.8" text-anchor="middle" font-family="'Liberation Serif', 'Noto Serif CJK SC', serif" font-size="32" fill="#1a1617" letter-spacing="-0.25">使用PD-1次数</text>
<path d="M1292.2 743.8 h36.6" stroke="#6b97d5" stroke-width="3.7"/>
<circle cx="1310.7" cy="743.8" r="6.5" fill="#6b97d5"/>
<text x="1342.4" y="755.8" font-family="'Liberation Serif', 'Noto Serif CJK SC', serif" font-size="29.5" fill="#1a1617" letter-spacing="2.7">病例<tspan x="1405" font-size="32" letter-spacing="0">1</tspan></text>
<path d="M1292.2 778.5 h36.6" stroke="#0b0b0b" stroke-width="3.7"/>
<rect x="1304.05" y="772.5" width="13.3" height="12" fill="#0b0b0b"/>
<text x="1342.4" y="790.5" font-family="'Liberation Serif', 'Noto Serif CJK SC', serif" font-size="29.5" fill="#1a1617" letter-spacing="2.7">病例<tspan x="1405" font-size="32" letter-spacing="0">2</tspan></text>
<path d="M1292.2 813.4 h36.6" stroke="#3bb53c" stroke-width="3.7"/>
<polygon points="1310.7,807.25 1317.3,819.55 1304.1,819.55" fill="#3bb53c"/>
<text x="1342.4" y="824.4" font-family="'Liberation Serif', 'Noto Serif CJK SC', serif" font-size="29.5" fill="#1a1617" letter-spacing="2.7">病例<tspan x="1405" font-size="32" letter-spacing="0">3</tspan></text>
<path d="M1292.2 848.8 h36.6" stroke="#7f2fa2" stroke-width="3.7"/>
<polygon points="1310.7,854.95 1317.3,842.65 1304.1,842.65" fill="#7f2fa2"/>
<text x="1342.4" y="859.5" font-family="'Liberation Serif', 'Noto Serif CJK SC', serif" font-size="29.5" fill="#1a1617" letter-spacing="2.7">病例<tspan x="1405" font-size="32" letter-spacing="0">4</tspan></text>
<circle cx="1470.4" cy="1013.4" r="15.85" fill="none" stroke="#1a1617" stroke-width="2.8"/>
<text x="1470.7" y="1023.9" text-anchor="middle" font-family="'Liberation Serif', 'Noto Serif CJK SC', serif" font-size="30.5" font-weight="bold" fill="#1a1617">d</text>
</g>
</g>
</svg>
</body>
</html>
